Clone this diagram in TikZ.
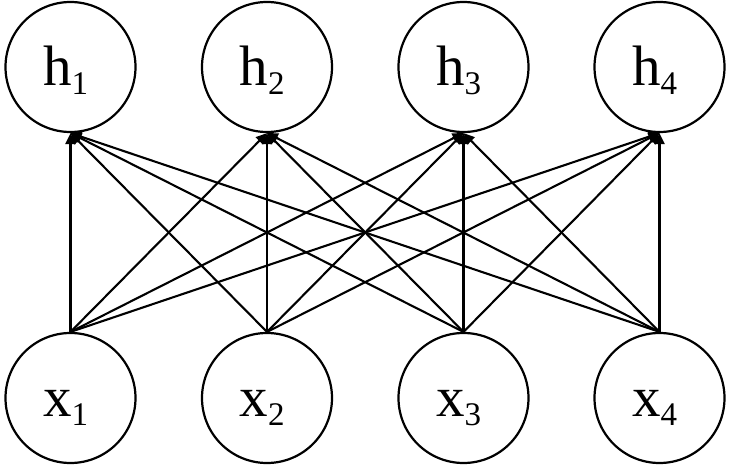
\documentclass[tikz,border=0pt]{standalone}
\usepackage{fontspec}
\setmainfont{Liberation Serif}
\usetikzlibrary{arrows.meta}
\newcommand{\sublbl}[2]{\fontsize{57}{60}\selectfont #1\raisebox{-9pt}{\fontsize{33}{34}\selectfont #2}}
\begin{document}
\begin{tikzpicture}[x=1pt,y=1pt,
  unit/.style={circle,draw,line width=2.2pt,minimum size=130pt,inner sep=0pt},
  lbltext/.style={anchor=base,inner sep=0pt},
  conn/.style={line width=2.1pt,-{Triangle[length=11pt,width=10pt]}}]
\useasboundingbox (0,0) rectangle (731,466);
\foreach \i/\cx in {1/70.5,2/267,3/463.5,4/659.5}{
  \node[unit] (h\i) at (\cx,399) {};
  \node[unit] (x\i) at (\cx,68) {};
  \node[lbltext] (h\i t) at (\cx-5,399-18.5) {\sublbl{h}{\i}};
  \node[lbltext] (x\i t) at (\cx-5,68-18.5) {\sublbl{x}{\i}};
}
\foreach \a in {1,2,3,4}{
  \foreach \b in {1,2,3,4}{
    \draw[conn] (x\a.north) -- (h\b.south);
  }
}
\end{tikzpicture}
\end{document}
